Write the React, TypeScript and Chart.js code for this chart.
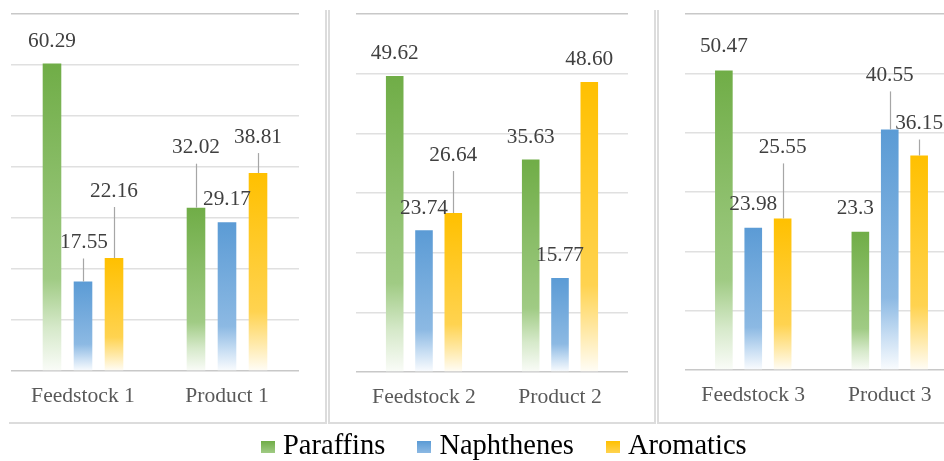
import React, { useEffect, useRef } from "react";
import { Chart, registerables } from "chart.js";

Chart.register(...registerables);

// ---------- data ----------
const categories = ["Feedstock 1", "Product 1", "Feedstock 2", "Product 2", "Feedstock 3", "Product 3"];
const seriesNames = ["Paraffins", "Naphthenes", "Aromatics"];
const paraffins = [60.29, 32.02, 49.62, 35.63, 50.47, 23.3];
const naphthenes = [17.55, 29.17, 23.74, 15.77, 23.98, 40.55];
const aromatics = [22.16, 38.81, 26.64, 48.6, 25.55, 36.15];
// decimals shown in the data labels (per series, per category)
const paraffinsDecimals = [2, 2, 2, 2, 2, 1];
const naphthenesDecimals = [2, 2, 2, 2, 2, 2];
const aromaticsDecimals = [2, 2, 2, 2, 2, 2];
const panelAxisMax = [70, 60, 60];
const axisStep = 10;

// ---------- label layout (px above bar top, horizontal nudge) ----------
const LABEL_LIFT = [
  [22, 60, 23, 22, 24, 23],
  [39, 23, 22, 23, 23, 54],
  [67, 36, 58, 23, 71, 32],
];
const LABEL_DX = [
  [0, 0, 0, 0, 0, -5],
  [1, 0, 0, 0, 0, 0],
  [0, 0, 0, 0, 0, 0],
];

// ---------- styles ----------
const FONT = '"Liberation Serif", "Times New Roman", serif';
const COLORS = [
  { base: "#70AD47", mid: "#A0CB84", pale: "#D6E9CA", end: "#FAFCF8" },
  { base: "#5B9BD5", mid: "#8CB9E3", pale: "#C8DEF3", end: "#FAFCFE" },
  { base: "#FFC000", mid: "#FFD350", pale: "#FFE9A8", end: "#FFFDF7" },
];
const PANELS = [
  { left: 0, width: 325, padL: 11, padR: 26, xAxisH: 51 },
  { left: 329, width: 326, padL: 27, padR: 27, xAxisH: 50 },
  { left: 658, width: 310, padL: 27, padR: 10, xAxisH: 52 },
];
const CANVAS_H = 422;

const seriesValues = [paraffins, naphthenes, aromatics];
const seriesDecimals = [paraffinsDecimals, naphthenesDecimals, aromaticsDecimals];

function gradientFor(c: any, col: any) {
  const chart = c.chart;
  if (c.type !== "data" || !chart.chartArea) return col.base;
  const y = chart.scales.y;
  const top = y.getPixelForValue(c.raw);
  const bottom = y.getPixelForValue(0);
  if (!isFinite(top) || !isFinite(bottom) || bottom - top < 1) return col.base;
  const g = chart.ctx.createLinearGradient(0, top, 0, bottom);
  g.addColorStop(0, col.base);
  g.addColorStop(0.7, col.mid);
  g.addColorStop(0.86, col.pale);
  g.addColorStop(1, col.end);
  return g;
}

const labelPlugin = {
  id: "barLabels",
  afterDatasetsDraw(chart: any, _args: any, opts: any) {
    const ctx = chart.ctx;
    const off = opts.offset || 0;
    ctx.save();
    ctx.font = `21.3px ${FONT}`;
    ctx.textAlign = "center";
    ctx.textBaseline = "middle";
    chart.data.datasets.forEach((ds: any, si: number) => {
      const meta = chart.getDatasetMeta(si);
      meta.data.forEach((bar: any, j: number) => {
        const ci = off + j;
        const v = ds.data[j];
        const text = Number(v).toFixed(seriesDecimals[si][ci]);
        const lift = LABEL_LIFT[si][ci];
        const x = bar.x + LABEL_DX[si][ci];
        const y = bar.y - lift;
        if (lift > 30) {
          const lx = Math.round(bar.x) + 0.5;
          ctx.strokeStyle = "#A6A6A6";
          ctx.lineWidth = 1.2;
          ctx.beginPath();
          ctx.moveTo(lx, y + 16);
          ctx.lineTo(lx, bar.y);
          ctx.stroke();
        }
        ctx.fillStyle = "#404040";
        ctx.fillText(text, x, y);
      });
    });
    ctx.restore();
  },
};

function Panel({ idx }: { idx: number }) {
  const ref = useRef<HTMLCanvasElement | null>(null);
  const p = PANELS[idx];
  useEffect(() => {
    if (!ref.current) return;
    const off = idx * 2;
    const chart = new Chart(ref.current, {
      type: "bar",
      data: {
        labels: categories.slice(off, off + 2),
        datasets: seriesValues.map((vals, si) => ({
          label: seriesNames[si],
          data: vals.slice(off, off + 2),
          backgroundColor: (c: any) => gradientFor(c, COLORS[si]),
          borderWidth: 0,
          categoryPercentage: 0.646,
          barPercentage: 0.6,
        })),
      },
      options: {
        responsive: false,
        animation: false,
        events: [],
        layout: { padding: { left: p.padL, right: p.padR, top: 14, bottom: 0 } },
        plugins: {
          legend: { display: false },
          tooltip: { enabled: false },
          barLabels: { offset: off },
        } as any,
        scales: {
          x: {
            grid: { display: false, drawTicks: false },
            border: { display: false },
            ticks: {
              color: "#595959",
              font: { family: FONT, size: 21.6 },
              padding: 12,
              maxRotation: 0,
              autoSkip: false,
            },
            afterFit: (s: any) => {
              s.height = p.xAxisH;
            },
          },
          y: {
            min: 0,
            max: panelAxisMax[idx],
            ticks: { display: false, stepSize: axisStep },
            grid: {
              drawTicks: false,
              color: (c: any) =>
                c.tick && (c.tick.value === 0 || c.tick.value === panelAxisMax[idx]) ? "#C8C8C8" : "#E0E0E0",
              lineWidth: 1.5,
            },
            border: { display: false },
            afterFit: (s: any) => {
              s.width = 0;
            },
          },
        },
      } as any,
      plugins: [labelPlugin as any],
    });
    return () => chart.destroy();
  }, []);
  return (
    <canvas
      ref={ref}
      width={p.width}
      height={CANVAS_H}
      style={{ position: "absolute", left: p.left, top: 0, width: p.width, height: CANVAS_H }}
    />
  );
}

const line = (left: number, top: number, width: number, height: number) => (
  <div style={{ position: "absolute", left, top, width, height, background: "#DCDCDC" }} />
);

export default function App() {
  return (
    <div
      style={{
        position: "fixed",
        left: 0,
        top: 0,
        width: 944,
        height: 461,
        background: "#fff",
        overflow: "hidden",
      }}
    >
      {PANELS.map((_, i) => (
        <Panel key={i} idx={i} />
      ))}
      {line(325, 10, 2, 414)}
      {line(9, 422, 318, 2)}
      {line(328, 10, 2, 414)}
      {line(654, 10, 2, 414)}
      {line(328, 422, 328, 2)}
      {line(657, 10, 2, 414)}
      {line(657, 422, 287, 2)}
      <div
        style={{
          position: "absolute",
          left: 261,
          top: 431,
          height: 28,
          display: "flex",
          alignItems: "center",
          fontFamily: FONT,
          fontSize: 28.5,
          lineHeight: "28px",
          color: "#000",
          whiteSpace: "nowrap",
        }}
      >
        {seriesNames.map((n, i) => (
          <div key={n} style={{ display: "flex", alignItems: "center", marginRight: 32 }}>
            <span
              style={{
                display: "inline-block",
                width: 14,
                height: 12,
                marginRight: 8,
                position: "relative",
                top: 2,
                background: `linear-gradient(${COLORS[i].base}, ${COLORS[i].mid})`,
              }}
            />
            <span>{n}</span>
          </div>
        ))}
      </div>
    </div>
  );
}
